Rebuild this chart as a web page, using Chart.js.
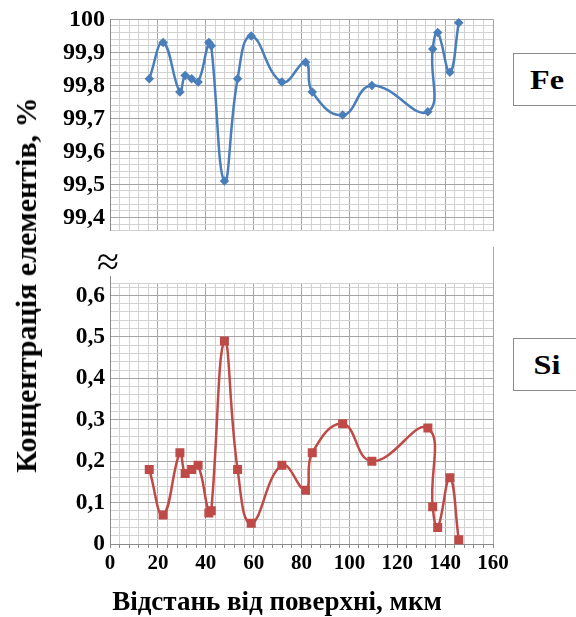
<!DOCTYPE html>
<html>
<head>
<meta charset="utf-8">
<script src="https://cdn.jsdelivr.net/npm/chart.js@4.4.1/dist/chart.umd.min.js"></script>
<style>
  html, body { margin: 0; padding: 0; background: #fff; }
  body { width: 576px; height: 617px; position: relative; overflow: hidden; font-family: 'Liberation Serif', serif; }
  .box { position: absolute; }
  .lbl { position: absolute; border: 1px solid #8a8a8a; background: #fff; box-sizing: border-box; }
  .lbl span { position: absolute; left: 33px; top: 26px; transform: translate(-50%, -50%) scaleX(1.15); font-weight: bold; font-size: 28px; line-height: 1; white-space: nowrap; }
  .ln { position: absolute; background: #8a8a8a; }
</style>
</head>
<body>
<div class="box" style="left:0;top:0;width:576px;height:250px;"><canvas id="c1"></canvas></div>
<div class="box" style="left:0;top:262px;width:576px;height:355px;"><canvas id="c2"></canvas></div>
<div class="ln" style="left:110px;top:276px;width:1px;height:8px;"></div>
<div class="ln" style="left:493px;top:247px;width:1px;height:37px;background:#a8a8a8;"></div>
<div style="position:absolute;left:108px;top:262px;transform:translate(-50%,-50%);font-size:40px;line-height:1;">≈</div>
<div style="position:absolute;left:26px;top:285px;transform:translate(-50%,-50%) rotate(-90deg);white-space:nowrap;font-weight:bold;font-size:30px;line-height:1;">Концентрація елементів, %</div>
<div style="position:absolute;left:277px;top:601px;transform:translate(-50%,-50%);white-space:nowrap;font-weight:bold;font-size:27px;line-height:1;">Відстань від поверхні, мкм</div>
<div class="lbl" style="left:513px;top:53px;width:80px;height:53px;"><span>Fe</span></div>
<div class="lbl" style="left:513px;top:338px;width:80px;height:53px;"><span>Si</span></div>
<script>
// ---- data ----
const distance = [16.4, 22.2, 29.2, 31.4, 34.1, 36.8, 41.3, 42.3, 47.8, 53.3, 59.0, 71.8, 81.7, 84.5, 97.2, 109.4, 132.8, 134.8, 136.9, 142.0, 145.7];
const feValues = [99.82, 99.93, 99.78, 99.83, 99.82, 99.81, 99.93, 99.92, 99.51, 99.82, 99.95, 99.81, 99.87, 99.78, 99.71, 99.80, 99.72, 99.91, 99.96, 99.84, 99.99];
const siValues = [0.18, 0.07, 0.22, 0.17, 0.18, 0.19, 0.075, 0.08, 0.49, 0.18, 0.05, 0.19, 0.13, 0.22, 0.29, 0.20, 0.28, 0.09, 0.04, 0.16, 0.01];

const xTicks = [0, 20, 40, 60, 80, 100, 120, 140, 160];
const xTickLabels = ['0', '20', '40', '60', '80', '100', '120', '140', '160'];
const feTicks = [99.4, 99.5, 99.6, 99.7, 99.8, 99.9, 100];
const feTickLabels = ['99,4', '99,5', '99,6', '99,7', '99,8', '99,9', '100'];
const siTicks = [0, 0.1, 0.2, 0.3, 0.4, 0.5, 0.6];
const siTickLabels = ['0', '0,1', '0,2', '0,3', '0,4', '0,5', '0,6'];

const FE_COLOR = '#4a7ebb';
const SI_COLOR = '#be4b48';
const MAJOR = '#a4a4a4';
const MINOR = '#d2d2d2';
const AXIS = '#8a8a8a';
const FONT = 'Liberation Serif';

function labelFor(v, ticks, labels) {
  for (let i = 0; i < ticks.length; i++) if (Math.abs(v - ticks[i]) < 1e-6) return labels[i];
  return '';
}
function isMajor(v, ticks) { return ticks.some(t => Math.abs(v - t) < 1e-6); }
function minorTicks(min, max, step) {
  const out = [];
  const n = Math.round((max - min) / step);
  for (let i = 0; i <= n; i++) out.push({ value: +(min + i * step).toFixed(4) });
  return out;
}
const pts = vals => distance.map((x, i) => ({ x, y: vals[i] }));

const xScaleBase = {
  type: 'linear', min: 0, max: 160,
  afterBuildTicks: s => { s.ticks = minorTicks(0, 160, 4); },
  grid: { color: c => isMajor(c.tick.value, xTicks) ? MAJOR : MINOR, lineWidth: 1 }
};

new Chart(document.getElementById('c1'), {
  type: 'scatter',
  data: { datasets: [{
    data: pts(feValues), showLine: true, borderColor: FE_COLOR, backgroundColor: FE_COLOR,
    borderWidth: 2.5, tension: 0.45, pointStyle: 'rectRot', pointRadius: 3, clip: false
  }]},
  options: {
    responsive: true, maintainAspectRatio: false, animation: false,
    layout: { padding: { top: 19, right: 83, left: 0, bottom: 0 } },
    plugins: { legend: { display: false }, tooltip: { enabled: false } },
    scales: {
      x: Object.assign({}, xScaleBase, {
        ticks: { display: false },
        border: { display: false },
        grid: Object.assign({}, xScaleBase.grid, { drawTicks: false }),
        afterFit: s => { s.height = 2; }
      }),
      y: {
        type: 'linear', min: 99.36, max: 100,
        afterBuildTicks: s => { s.ticks = minorTicks(99.36, 100, 0.02); },
        afterFit: s => { s.width = 110; },
        border: { display: true, color: AXIS, width: 1 },
        grid: { drawTicks: false, color: c => isMajor(c.tick.value, feTicks) ? MAJOR : MINOR },
        ticks: {
          autoSkip: false, padding: 5, color: '#000',
          font: { family: FONT, size: 24, weight: 'bold' },
          callback: v => labelFor(v, feTicks, feTickLabels)
        }
      }
    }
  }
});

new Chart(document.getElementById('c2'), {
  type: 'scatter',
  data: { datasets: [{
    data: pts(siValues), showLine: true, borderColor: SI_COLOR, backgroundColor: SI_COLOR,
    borderWidth: 2.5, tension: 0.45, pointStyle: 'rect', pointRadius: 4.6, clip: false
  }]},
  options: {
    responsive: true, maintainAspectRatio: false, animation: false,
    layout: { padding: { top: 21, right: 83, left: 0, bottom: 0 } },
    plugins: { legend: { display: false }, tooltip: { enabled: false } },
    scales: {
      x: Object.assign({}, xScaleBase, {
        border: { display: true, color: AXIS, width: 1 },
        grid: Object.assign({}, xScaleBase.grid, { drawTicks: true, tickLength: 4, tickColor: AXIS }),
        ticks: {
          autoSkip: false, maxRotation: 0, padding: 3, color: '#000',
          font: { family: FONT, size: 21, weight: 'bold' },
          callback: v => labelFor(v, xTicks, xTickLabels)
        },
        afterFit: s => { s.height = 73; }
      }),
      y: {
        type: 'linear', min: 0, max: 0.63,
        afterBuildTicks: s => { const t = minorTicks(0, 0.62, 0.02); t.push({ value: 0.63 }); s.ticks = t; },
        afterFit: s => { s.width = 110; },
        border: { display: true, color: AXIS, width: 1 },
        grid: { drawTicks: false, color: c => isMajor(c.tick.value, siTicks) ? MAJOR : MINOR },
        ticks: {
          autoSkip: false, padding: 5, color: '#000',
          font: { family: FONT, size: 23.5, weight: 'bold' },
          callback: v => labelFor(v, siTicks, siTickLabels)
        }
      }
    }
  }
});
</script>
</body>
</html>
